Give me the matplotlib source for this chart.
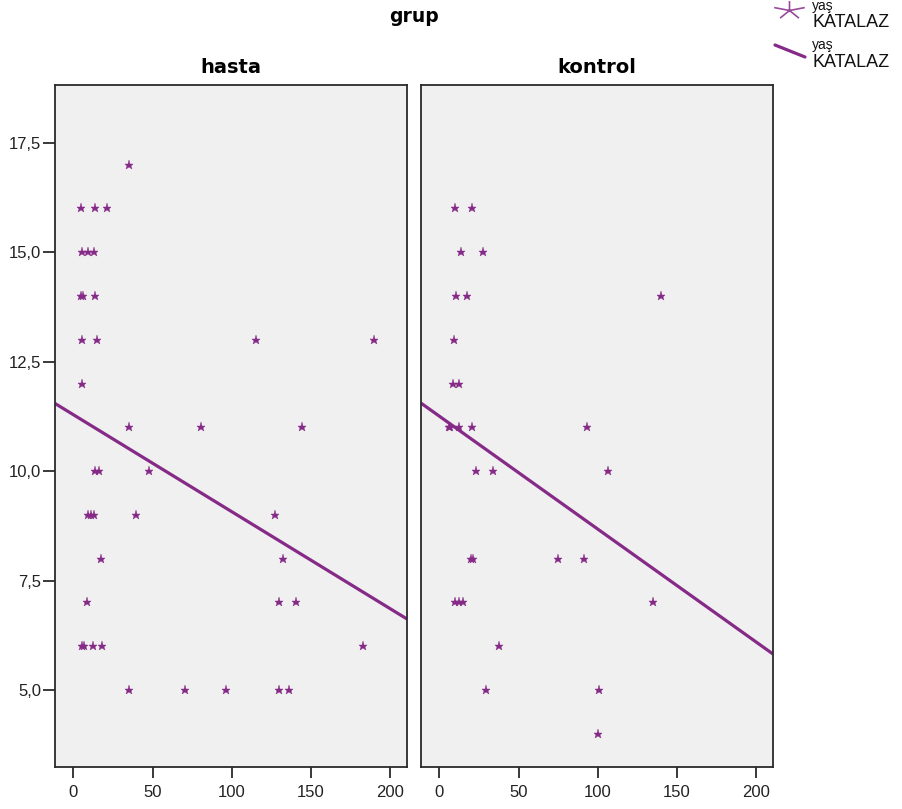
import numpy as np
import matplotlib
matplotlib.use("Agg")
import matplotlib.pyplot as plt
from matplotlib.path import Path
from matplotlib.lines import Line2D
from matplotlib.ticker import FuncFormatter

# --- data (x = yaş, y = KATALAZ) ---
groups = ["hasta", "kontrol"]

hasta_x = [35,
           5, 14, 21,
           5.5, 9.3, 13,
           5, 6, 13.7,
           5.7, 15, 115.5, 189.5,
           5.5,
           35, 80.5, 144,
           14, 16, 48,
           9.5, 11.5, 13, 39.4, 127,
           17.7, 132.6,
           8.6, 130, 140.8,
           5.5, 7, 12.2, 18.3, 183,
           35, 70.3, 96.2, 130, 136]
hasta_y = [17,
           16, 16, 16,
           15, 15, 15,
           14, 14, 14,
           13, 13, 13, 13,
           12,
           11, 11, 11,
           10, 10, 10,
           9, 9, 9, 9, 9,
           8, 8,
           7, 7, 7,
           6, 6, 6, 6, 6,
           5, 5, 5, 5, 5]

kontrol_x = [10.1, 20.6,
             13.9, 27.3,
             10.7, 17.5, 140,
             9,
             8.4, 12.2,
             6, 7, 12.2, 20.6, 93.4,
             23.3, 33.9, 106.4,
             20, 21, 74.9, 91,
             10.1, 12.6, 15.3, 134.8,
             37.9,
             29.5, 100.5,
             100.1]
kontrol_y = [16, 16,
             15, 15,
             14, 14, 14,
             13,
             12, 12,
             11, 11, 11, 11, 11,
             10, 10, 10,
             8, 8, 8, 8,
             7, 7, 7, 7,
             6,
             5, 5,
             4]

# fit lines per group (intercept, slope)
fit_intercept = [11.29, 11.256]
fit_slope = [-0.02218, -0.02582]

x_ticks = [0, 50, 100, 150, 200]
y_ticks = [5.0, 7.5, 10.0, 12.5, 15.0, 17.5]

purple = "#862a88"
W, H = 903, 809


def fx(px):
    return px / W


def fy(py):
    return 1 - py / H


fig = plt.figure(figsize=(W / 100, H / 100), dpi=100)
fig.patch.set_facecolor("white")

panels = [(55, 407), (421, 773)]
top, bottom = 85, 767
axes = []
for i, (l, r) in enumerate(panels):
    ax = fig.add_axes([fx(l), fy(bottom), (r - l) / W, (bottom - top) / H])
    ax.set_facecolor("#f0f0f0")
    ax.set_xlim(-11.5, 210.5)
    ax.set_ylim(3.24, 18.82)
    for s in ax.spines.values():
        s.set_color("#2a2a2a")
        s.set_linewidth(1.3)
    ax.set_xticks(x_ticks)
    ax.tick_params(axis="x", direction="out", length=8, width=1.3,
                   color="#2a2a2a", labelsize=12, pad=5, labelcolor="#222222")
    if i == 0:
        ax.set_yticks(y_ticks)
        ax.yaxis.set_major_formatter(
            FuncFormatter(lambda v, p: f"{v:.1f}".replace(".", ",")))
        ax.tick_params(axis="y", direction="out", length=9, width=1.3,
                       color="#2a2a2a", labelsize=12, pad=1, labelcolor="#222222")
    else:
        ax.set_yticks([])
    for lab in ax.get_xticklabels() + ax.get_yticklabels():
        lab.set_fontfamily("Liberation Sans")
    axes.append(ax)

data = [(hasta_x, hasta_y), (kontrol_x, kontrol_y)]
for i, ax in enumerate(axes):
    xs, ys = data[i]
    ax.plot(xs, ys, linestyle="none", marker="*", ms=6.5, color=purple,
            mec=purple, mew=0.3, zorder=3)
    xl = np.array(ax.get_xlim())
    ax.plot(xl, fit_intercept[i] + fit_slope[i] * xl, color=purple, lw=2.3,
            solid_capstyle="butt", zorder=2)
    ax.set_xlim(-11.5, 210.5)

# titles
fig.text(fx(414), fy(22), "grup", ha="center", va="baseline",
         fontsize=13.5, fontweight="bold", family="DejaVu Sans")
for (l, r), g in zip(panels, groups):
    fig.text(fx((l + r) / 2), fy(73), g, ha="center", va="baseline",
             fontsize=14, fontweight="bold", family="DejaVu Sans")

# legend
ang = np.deg2rad(90 + 72 * np.arange(5))
verts, codes = [], []
for a in ang:
    verts += [(0, 0), (1.7 * np.cos(a), np.sin(a))]
    codes += [Path.MOVETO, Path.LINETO]
star_path = Path(verts, codes)
fig.add_artist(Line2D([fx(789)], [fy(10)], marker=star_path, ms=22,
                      linestyle="none", color="#9a4a9c", mew=1.2))
fig.add_artist(Line2D([fx(775), fx(805)], [fy(45), fy(57)], color=purple,
                      lw=2.3, solid_capstyle="round"))
for ybase_small, ybase in [(10, 27), (49, 67)]:
    fig.text(fx(812), fy(ybase_small), "yaş", fontsize=10, va="baseline",
             family="Liberation Sans", color="#111111")
    fig.text(fx(813), fy(ybase), "KATALAZ", fontsize=13, va="baseline",
             family="Liberation Sans", color="#111111")

fig.savefig("out.png", dpi=100)
